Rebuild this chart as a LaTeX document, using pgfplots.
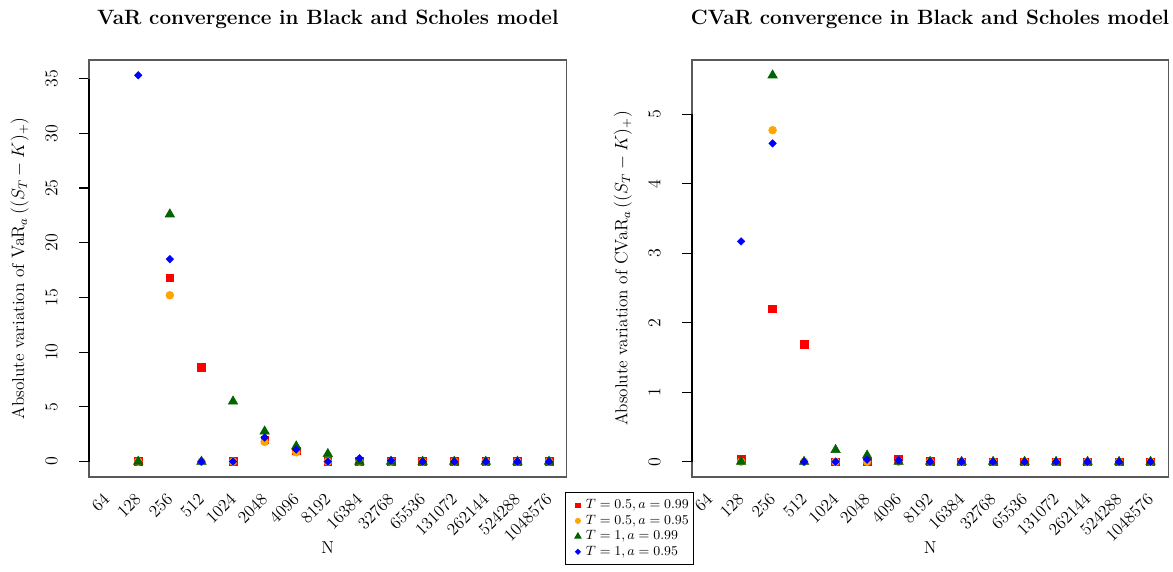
\documentclass[border=0pt]{standalone}
\usepackage{pgfplots}
\pgfplotsset{compat=1.18}

\definecolor{rred}{RGB}{255,0,0}
\definecolor{rorange}{RGB}{255,165,0}
\definecolor{rgreen}{RGB}{0,100,0}
\definecolor{rblue}{RGB}{0,0,255}

\pgfplotsset{
  bsplot/.style={
    scale only axis, height=278pt,
    xmin=-0.56, xmax=14.56,
    xtick={0,...,14},
    xticklabels={64,128,256,512,1024,2048,4096,8192,16384,32768,65536,131072,262144,524288,1048576},
    xtick style={draw=none},
    tick label style={font=\fontsize{11.5}{13}\selectfont},
    xticklabel style={yshift=-6pt, rotate=45, anchor=east, inner sep=0pt},
    tick align=outside, major tick length=6.7pt,
    ytick pos=left,
    ytick style={draw=black, line width=0.8pt},
    yticklabel style={xshift=-14.2pt, rotate=90, anchor=south, inner sep=0pt},
    axis line style={draw=black!65, line width=0.8pt},
    every axis title/.style={at={(0.5,1)}, anchor=center, yshift=27.3pt, font=\fontsize{13.8}{16}\selectfont\bfseries},
    every axis x label/.style={at={(axis description cs:0.5,-0.169)}, anchor=center, font=\fontsize{11.5}{13}\selectfont},
    every axis y label/.style={at={(axis description cs:-0.145,0.5)}, anchor=center, rotate=90, font=\fontsize{11.5}{13}\selectfont},
    xlabel={N},
    clip=false,
    legend image code/.code={\draw[##1] plot coordinates {(0pt,0pt)}; \path (-6pt,0pt) (4pt,0pt);},
    legend image post style={every mark/.append style={scale=0.65}},
  },
  sred/.style={only marks, mark=square*, mark size=2.55pt, color=rred, mark options={fill=rred, draw=rred}},
  sorange/.style={only marks, mark=*, mark size=2.6pt, color=rorange, mark options={fill=rorange, draw=rorange}},
  sgreen/.style={only marks, mark=triangle*, mark size=3.6pt, color=rgreen, mark options={fill=rgreen, draw=rgreen}},
  sblue/.style={only marks, mark=square*, mark size=1.75pt, color=rblue, mark options={fill=rblue, draw=rblue, rotate=45}},
}

\begin{document}
\begin{tikzpicture}
\path[use as bounding box] (0,0) rectangle (782pt,381.3pt);

% VaR panel
\begin{axis}[bsplot, at={(59.3pt,63.3pt)}, anchor=south west, width=318.5pt,
  ymin=-1.41, ymax=36.7, ytick={0,5,...,35},
  title={VaR convergence in Black and Scholes model},
  ylabel={Absolute variation of $\mathrm{VaR}_a\left((S_T-K)_+\right)$},
  legend style={at={(axis description cs:0.9965,-0.036)}, anchor=north west,
    draw=black, line width=0.6pt, font=\small, inner xsep=2pt, inner ysep=3.5pt,
    row sep=0pt, cells={anchor=west},
    nodes={inner sep=1pt, text height=6.3pt, text depth=2pt}},
]
\addplot[sred] coordinates {(1,0) (2,16.8) (3,8.6) (4,0) (5,2.0) (6,1.0) (7,0.05) (8,0) (9,0) (10,0) (11,0) (12,0) (13,0) (14,0)};
\addlegendentry{$T=0.5, a=0.99$}
\addplot[sorange] coordinates {(1,0) (2,15.2) (3,0) (4,0) (5,1.8) (6,0.85) (7,0) (8,0) (9,0) (10,0) (11,0) (12,0) (13,0) (14,0)};
\addlegendentry{$T=0.5, a=0.95$}
\addplot[sgreen] coordinates {(1,0) (2,22.6) (3,0) (4,5.5) (5,2.76) (6,1.4) (7,0.7) (8,0) (9,0) (10,0) (11,0) (12,0) (13,0) (14,0)};
\addlegendentry{$T=1, a=0.99$}
\addplot[sblue] coordinates {(1,35.3) (2,18.5) (3,0) (4,0) (5,2.2) (6,1.1) (7,0) (8,0.3) (9,0.1) (10,0) (11,0) (12,0) (13,0) (14,0)};
\addlegendentry{$T=1, a=0.95$}
\draw[black, line width=0.8pt] (axis cs:-0.56,0) -- (axis cs:-0.56,35);
\end{axis}

% CVaR panel
\begin{axis}[bsplot, at={(461.3pt,63.3pt)}, anchor=south west, width=317.5pt,
  ymin=-0.22, ymax=5.78, ytick={0,1,...,5},
  title={CVaR convergence in Black and Scholes model},
  ylabel={Absolute variation of $\mathrm{CVaR}_a\left((S_T-K)_+\right)$},
]
\addplot[sred] coordinates {(1,0.04) (2,2.2) (3,1.69) (4,0) (5,0) (6,0.04) (7,0.01) (8,0) (9,0) (10,0) (11,0) (12,0) (13,0) (14,0)};
\addplot[sorange] coordinates {(1,0) (2,4.77) (3,0) (4,0) (5,0) (6,0) (7,0) (8,0) (9,0) (10,0) (11,0) (12,0) (13,0) (14,0)};
\addplot[sgreen] coordinates {(1,0) (2,5.56) (3,0) (4,0.17) (5,0.09) (6,0) (7,0) (8,0) (9,0) (10,0) (11,0) (12,0) (13,0) (14,0)};
\addplot[sblue] coordinates {(1,3.17) (2,4.58) (3,0) (4,0) (5,0.03) (6,0.02) (7,0) (8,0) (9,0) (10,0) (11,0) (12,0) (13,0) (14,0)};
\draw[black, line width=0.8pt] (axis cs:-0.56,0) -- (axis cs:-0.56,5);
\end{axis}
\end{tikzpicture}
\end{document}
